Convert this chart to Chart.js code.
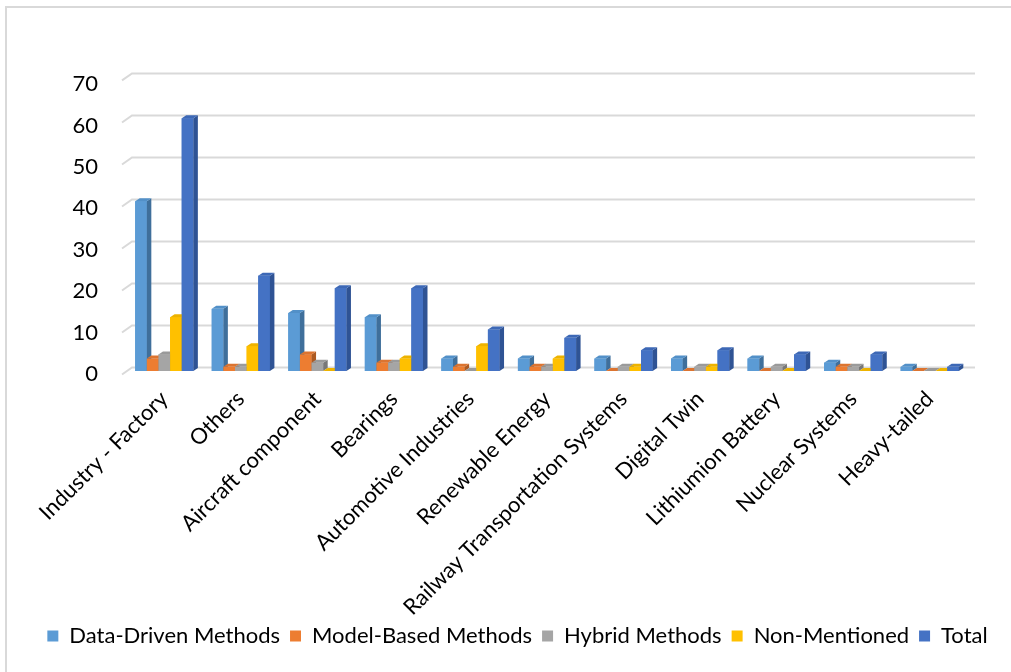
<!DOCTYPE html>
<html>
<head>
<meta charset="utf-8">
<script src="https://cdn.jsdelivr.net/npm/chart.js@4.4.0/dist/chart.umd.min.js"></script>
<style>
  html, body { margin: 0; padding: 0; background: #fff; }
  #wrap { position: relative; width: 1011px; height: 672px; overflow: hidden; }
  #frame { position: absolute; left: 5px; top: 6px; width: 1100px; height: 800px;
           border: 2px solid #d9d9d9; box-sizing: border-box; }
  canvas { position: absolute; left: 0; top: 0; }
</style>
</head>
<body>
<div id="wrap"><div id="frame"></div><canvas id="c" width="1011" height="672"></canvas></div>
<script>
// Application areas and publication counts per method family
const categories = [
  'Industry - Factory', 'Others', 'Aircraft component', 'Bearings',
  'Automotive Industries', 'Renewable Energy', 'Railway Transportation Systems',
  'Digital Twin', 'Lithiumion Battery', 'Nuclear Systems', 'Heavy-tailed'
];
const dataDriven   = [41, 15, 14, 13, 3, 3, 3, 3, 3, 2, 1];
const modelBased   = [3, 1, 4, 2, 1, 1, 0, 0, 0, 1, 0];
const hybrid       = [4, 1, 2, 2, 0, 1, 1, 1, 1, 1, 0];
const nonMentioned = [13, 6, 0, 3, 6, 3, 1, 1, 0, 0, 0];
const total        = [61, 23, 20, 20, 10, 8, 5, 5, 4, 4, 1];
const yTicks       = [0, 10, 20, 30, 40, 50, 60, 70];

const seriesNames  = ['Data-Driven Methods', 'Model-Based Methods', 'Hybrid Methods', 'Non-Mentioned', 'Total'];
const seriesData   = [dataDriven, modelBased, hybrid, nonMentioned, total];
const frontColors  = ['#5B9BD5', '#ED7D31', '#A5A5A5', '#FFC000', '#4472C4'];
const sideColors   = ['#3F6F9B', '#AD5A22', '#787878', '#BA8C00', '#2F5394'];
const topColors    = ['#5290C8', '#DC7430', '#9A9A9A', '#EDB300', '#3D68B6'];

const FONT = 'Lato';
const DEPTH_X = 4.5, DEPTH_Y = 3;

// Back-wall gridlines with a slanted floor/side edge, plus box faces for each bar
const bar3d = {
  id: 'bar3d',
  beforeDatasetsDraw(chart) {
    const ctx = chart.ctx;
    const ys = chart.scales.y;
    const { left, right } = chart.chartArea;
    ctx.save();
    ctx.strokeStyle = '#d9d9d9';
    ctx.lineWidth = 2;
    yTicks.forEach(v => {
      const yp = ys.getPixelForValue(v);
      const back = yp - 3.5 - (ys.bottom - yp) * 0.014;
      ctx.beginPath();
      ctx.moveTo(left - 4, back + 7);
      ctx.lineTo(left + 6, back);
      ctx.lineTo(right + 7, back);
      ctx.stroke();
    });
    ctx.restore();
  },
  afterDatasetsDraw(chart) {
    const ctx = chart.ctx;
    const metas = chart.data.datasets.map((d, i) => chart.getDatasetMeta(i));
    const n = chart.data.labels.length;
    ctx.save();
    for (let j = 0; j < n; j++) {
      for (let i = 0; i < metas.length; i++) {
        const el = metas[i].data[j];
        const { x, y, base, width } = el.getProps(['x', 'y', 'base', 'width'], true);
        const l = x - width / 2, r = x + width / 2;
        ctx.fillStyle = frontColors[i];
        ctx.fillRect(l, y, width, base - y);
        ctx.fillStyle = sideColors[i];
        ctx.beginPath();
        ctx.moveTo(r, y);
        ctx.lineTo(r + DEPTH_X, y - DEPTH_Y);
        ctx.lineTo(r + DEPTH_X, base - DEPTH_Y);
        ctx.lineTo(r, base);
        ctx.closePath();
        ctx.fill();
        ctx.fillStyle = topColors[i];
        ctx.beginPath();
        ctx.moveTo(l, y);
        ctx.lineTo(l + DEPTH_X, y - DEPTH_Y);
        ctx.lineTo(r + DEPTH_X, y - DEPTH_Y);
        ctx.lineTo(r, y);
        ctx.closePath();
        ctx.fill();
      }
    }
    ctx.restore();
  }
};

new Chart(document.getElementById('c'), {
  type: 'bar',
  data: {
    labels: categories,
    datasets: seriesNames.map((name, i) => ({
      label: name,
      data: seriesData[i],
      backgroundColor: frontColors[i],
      borderWidth: 0,
      barPercentage: 1.0,
      categoryPercentage: 0.76
    }))
  },
  options: {
    responsive: false,
    devicePixelRatio: 1,
    animation: false,
    layout: { padding: { top: 81, left: 24, right: 0, bottom: 15 } },
    plugins: {
      tooltip: { enabled: false },
      legend: {
        position: 'bottom',
        labels: {
          boxWidth: 11, boxHeight: 11, padding: 10,
          color: '#000', font: { family: FONT, size: 22 }
        }
      }
    },
    scales: {
      x: {
        grid: { display: false, drawTicks: false },
        border: { display: false },
        ticks: {
          autoSkip: false, minRotation: 45, maxRotation: 45, padding: 15,
          color: '#000', font: { family: FONT, size: 22 }
        },
        afterFit: s => { s.height = 244; }
      },
      y: {
        min: 0, max: 70,
        grid: { display: false, drawTicks: false },
        border: { display: false },
        afterBuildTicks: s => { s.ticks = yTicks.map(v => ({ value: v })); },
        ticks: { padding: 28, labelOffset: 3, color: '#000', font: { family: FONT, size: 22 } },
        afterFit: s => { s.width = 102; }
      },
      yRight: {
        position: 'right',
        grid: { display: false, drawTicks: false },
        border: { display: false },
        ticks: { display: false },
        afterFit: s => { s.width = 43; }
      }
    }
  },
  plugins: [bar3d]
});
</script>
</body>
</html>
